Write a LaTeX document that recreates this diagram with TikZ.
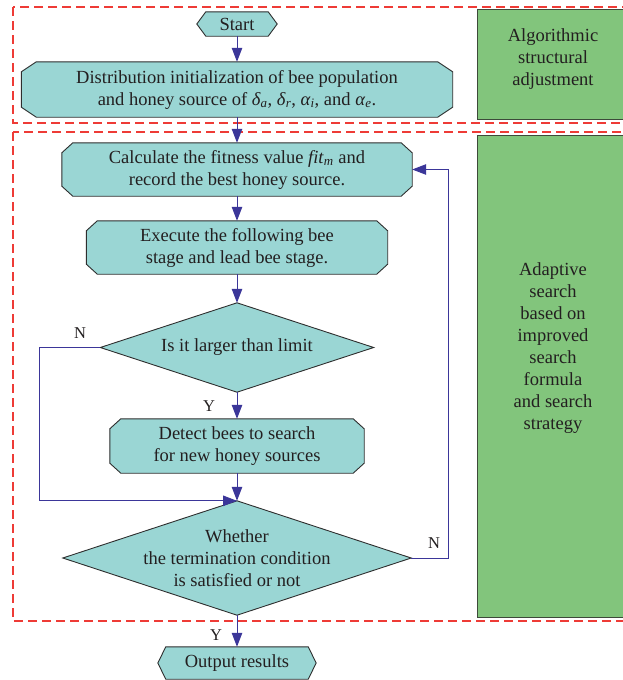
\documentclass[tikz,border=0pt]{standalone}
\usepackage{fontspec}
\setmainfont{Liberation Serif}
\usetikzlibrary{arrows.meta,calc,backgrounds}
\definecolor{tealfill}{HTML}{9AD6D4}
\definecolor{edgegray}{HTML}{2E2E2E}
\definecolor{grnfill}{HTML}{82C57C}
\definecolor{grnedge}{HTML}{3D4A3A}
\definecolor{reddash}{HTML}{EE3B36}
\definecolor{arrblue}{HTML}{3B3699}
\definecolor{txtcol}{HTML}{231F20}
\newcommand\chambox[3]{%
 \path[shapefill] ($(#1.north west)+(#2pt,0pt)$) -- ($(#1.north east)+(-#2pt,0pt)$) -- ($(#1.north east)+(0pt,-#3pt)$) -- ($(#1.south east)+(0pt,#3pt)$) -- ($(#1.south east)+(-#2pt,0pt)$) -- ($(#1.south west)+(#2pt,0pt)$) -- ($(#1.south west)+(0pt,#3pt)$) -- ($(#1.north west)+(0pt,-#3pt)$) -- cycle;}
\newcommand\hexbox[2]{%
 \path[shapefill] (#1.west) -- ($(#1.north west)+(#2pt,0pt)$) -- ($(#1.north east)+(-#2pt,0pt)$) -- (#1.east) -- ($(#1.south east)+(-#2pt,0pt)$) -- ($(#1.south west)+(#2pt,0pt)$) -- cycle;}
\newcommand\diabox[1]{%
 \path[shapefill] (#1.west) -- (#1.north) -- (#1.east) -- (#1.south) -- cycle;}
\begin{document}
\begin{tikzpicture}[x=1pt,y=-1pt,
  box/.style={rectangle, inner sep=0pt, align=center, text=txtcol, font=\fontsize{18.5}{22}\selectfont},
  shapefill/.style={fill=tealfill, draw=edgegray, line width=0.9pt, line join=miter},
  greenbox/.style={fill=grnfill, draw=grnedge, line width=1pt},
  zone/.style={draw=reddash, line width=1.4pt, dash pattern=on 9pt off 5pt},
  arr/.style={draw=arrblue, line width=1pt, -{Triangle[length=14pt,width=10.5pt]}},
  lbl/.style={text=txtcol, inner sep=0pt, font=\fontsize{16.5}{20}\selectfont}]
\useasboundingbox (0,0) rectangle (622,680);

% flow nodes
\node[box, minimum width=80pt, minimum height=24pt] (start) at (237,24) {Start};
\node[box, minimum width=431pt, minimum height=55pt] (init) at (237,89.5)
  {Distribution initialization of bee population\\and honey source of \textit{δ}\textsubscript{\textit{a}}, \textit{δ}\textsubscript{\textit{r}}, \textit{α}\textsubscript{\textit{i}}, and \textit{α}\textsubscript{\textit{e}}.};
\node[box, minimum width=350pt, minimum height=53pt] (calc) at (237,169.5)
  {Calculate the fitness value \textit{fit}\textsubscript{\textit{m}} and\\record the best honey source.};
\node[box, minimum width=301pt, minimum height=53pt] (exec) at (237,247.5)
  {Execute the following bee\\stage and lead bee stage.};
\node[box, minimum width=273pt, minimum height=89pt] (d1) at (237,347.5)
  {Is it larger than limit};
\node[box, minimum width=254pt, minimum height=54pt] (detect) at (237,446)
  {Detect bees to search\\for new honey sources};
\node[box, minimum width=348pt, minimum height=114pt] (d2) at (237,558)
  {Whether\\the termination condition\\is satisfied or not};
\node[box, minimum width=158pt, minimum height=32pt] (out) at (237,663)
  {Output results};

% side texts
\node[box] (g1) at (553,59) {Algorithmic\\structural\\adjustment};
\node[box] (g2) at (553,348) {Adaptive\\search\\based on\\improved\\search\\formula\\and search\\strategy};

% labels
\node[lbl] (n1) at (80,333) {N};
\node[lbl] (y1) at (209,406) {Y};
\node[lbl] (n2) at (434,543) {N};
\node[lbl] (y2) at (216,635) {Y};

\coordinate (lx) at (39,400);
\coordinate (rx) at (448,400);

\begin{scope}[on background layer]
  \draw[zone] (13,7) rectangle (640,123);
  \draw[zone] (13,132) rectangle (640,621);
  \draw[greenbox] (477,9) rectangle (640,119);
  \draw[greenbox] (477,135) rectangle (640,617);
  \hexbox{start}{9}
  \chambox{init}{15}{10}
  \chambox{calc}{11}{10}
  \chambox{exec}{11}{10}
  \diabox{d1}
  \chambox{detect}{11}{10}
  \diabox{d2}
  \hexbox{out}{8}
\end{scope}

% connectors
\draw[arr] (start.south) -- (init.north);
\draw[arr] (init.south) -- (calc.north);
\draw[arr] (calc.south) -- (exec.north);
\draw[arr] (exec.south) -- (d1.north);
\draw[arr] (d1.south) -- (detect.north);
\draw[arr] (detect.south) -- (d2.north);
\draw[arr] (d2.south) -- (out.north);
\draw[arr] (d1.west) -- (d1.west -| lx) -- (lx |- d2.north) -- (d2.north);
\draw[arr] (d2.east) -- (d2.east -| rx) -- (rx |- calc.east) -- (calc.east);
\end{tikzpicture}
\end{document}
